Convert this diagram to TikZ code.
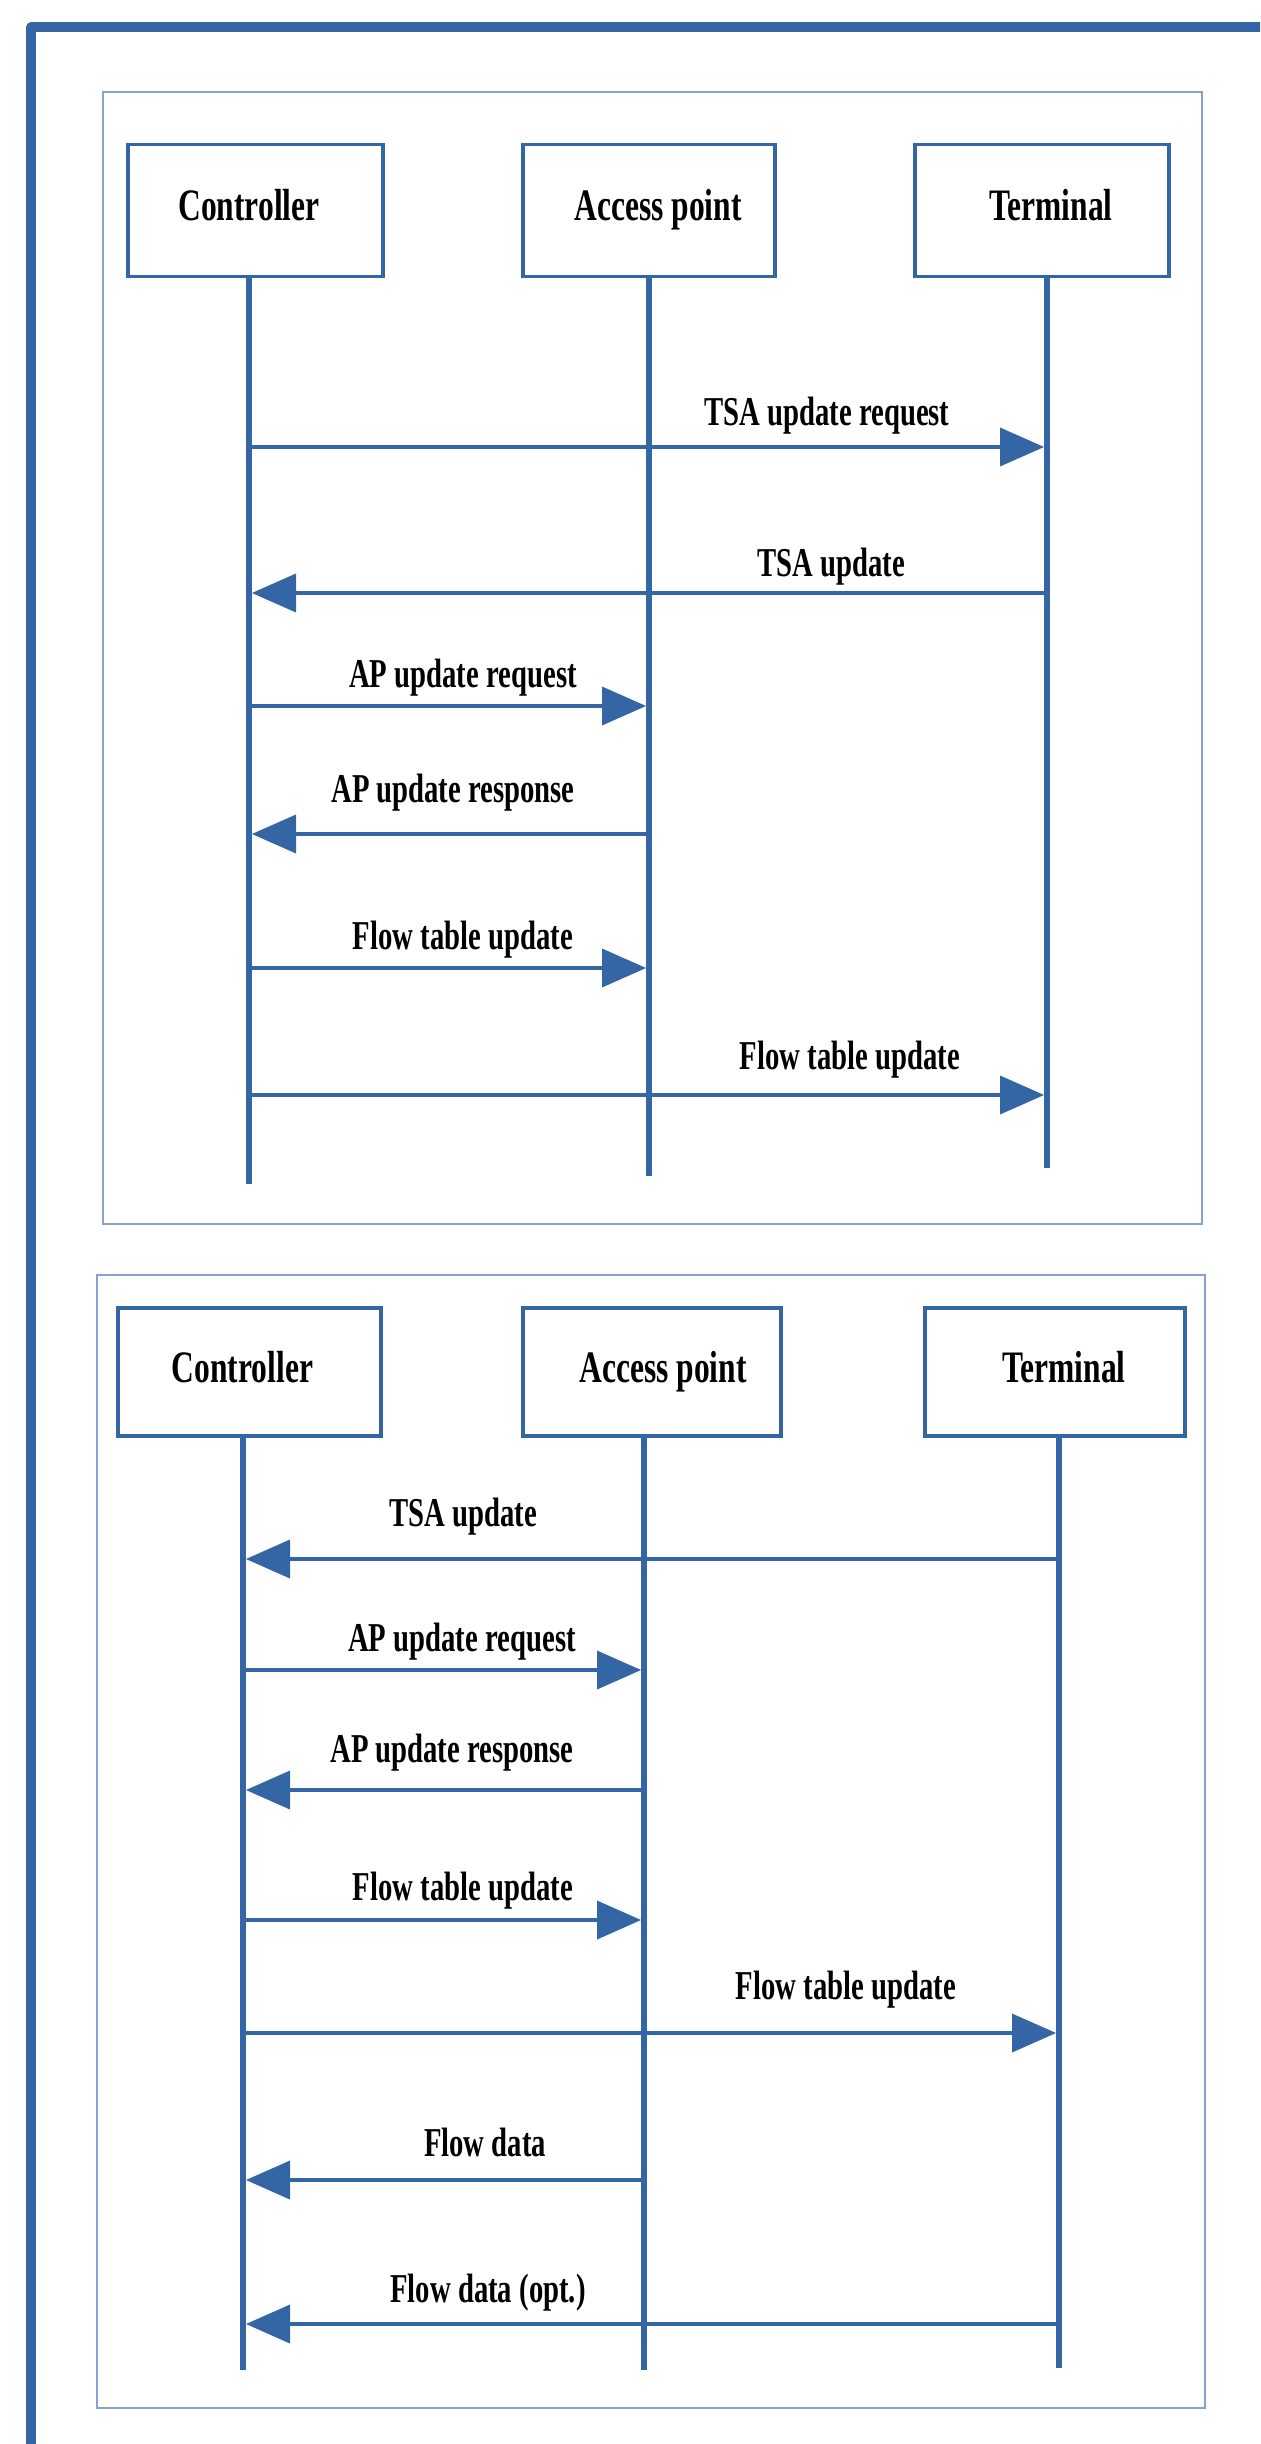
\documentclass[tikz,border=0pt]{standalone}
\usepackage{fontspec}
\newfontfamily\diafont[FakeStretch=0.70]{Liberation Serif}
\usetikzlibrary{arrows.meta}
\definecolor{lineblue}{HTML}{3465A4}
\definecolor{panelblue}{HTML}{86A3D0}
\begin{document}
\begin{tikzpicture}[x=0.5pt,y=-0.5pt,
  actor/.style={draw=lineblue, line width=1.75pt, rectangle, inner sep=0pt,
    minimum height=66pt, text height=15pt, text depth=5pt,
    font=\diafont\bfseries\fontsize{22.5pt}{24pt}\selectfont},
  life/.style={draw=lineblue, line width=2.75pt},
  msg/.style={draw=lineblue, line width=2pt, shorten >=1.5pt,
    -{Triangle[length=22pt,width=19.5pt,line width=0pt]}},
  lbl/.style={anchor=base, inner sep=0pt,
    font=\diafont\bfseries\fontsize{20.5pt}{22pt}\selectfont},
  panel/.style={draw=panelblue, line width=1pt},
  frame/.style={draw=lineblue, line width=5pt, line join=round}]
\useasboundingbox (0,0) rectangle (1260,2444);
\clip (0,0) rectangle (1260,2444);
% outer frame (cut at the right and bottom)
\draw[frame] (31,2500) -- (31,27.5) -- (1300,27.5);
% panels
\draw[panel] (103,92) rectangle (1202,1224);
\draw[panel] (97,1275) rectangle (1205,2408);

% ---------- panel 1 ----------
\node[actor, minimum width=127.5pt] (c1) at (255.5,210.5) {\hspace*{-6.5pt}Controller};
\node[actor, minimum width=126pt] (a1) at (649,210.5) {\hspace*{9pt}Access point};
\node[actor, minimum width=127pt] (t1) at (1042,210.5) {\hspace*{9pt}Terminal};
\coordinate (c1e) at (249,1184);
\coordinate (a1e) at (649,1176);
\coordinate (t1e) at (1047,1168);
\draw[life] (c1e |- c1.south) -- (c1e);
\draw[life] (a1e |- a1.south) -- (a1e);
\draw[life] (t1e |- t1.south) -- (t1e);

\draw[msg] (c1e |- 0,447) -- (t1e |- 0,447);
\node[lbl] (m11) at (827,426) {TSA update request};
\draw[msg] (t1e |- 0,593) -- (c1e |- 0,593);
\node[lbl] (m12) at (831,576) {TSA update};
\draw[msg] (c1e |- 0,706) -- (a1e |- 0,706);
\node[lbl] (m13) at (463,687) {AP update request};
\draw[msg] (a1e |- 0,834) -- (c1e |- 0,834);
\node[lbl] (m14) at (453,802) {AP update response};
\draw[msg] (c1e |- 0,968) -- (a1e |- 0,968);
\node[lbl] (m15) at (463,949) {Flow table update};
\draw[msg] (c1e |- 0,1095) -- (t1e |- 0,1095);
\node[lbl] (m16) at (850,1069) {Flow table update};

% ---------- panel 2 ----------
\node[actor, minimum width=131.5pt, minimum height=64pt] (c2) at (249.5,1372) {\hspace*{-7pt}Controller};
\node[actor, minimum width=129pt, minimum height=64pt] (a2) at (652,1372) {\hspace*{11pt}Access point};
\node[actor, minimum width=130pt, minimum height=64pt] (t2) at (1055,1372) {\hspace*{9pt}Terminal};
\coordinate (c2e) at (243,2370);
\coordinate (a2e) at (644,2370);
\coordinate (t2e) at (1059,2368);
\draw[life] (c2e |- c2.south) -- (c2e);
\draw[life] (a2e |- a2.south) -- (a2e);
\draw[life] (t2e |- t2.south) -- (t2e);

\draw[msg] (t2e |- 0,1559) -- (c2e |- 0,1559);
\node[lbl] (m21) at (463,1526) {TSA update};
\draw[msg] (c2e |- 0,1670) -- (a2e |- 0,1670);
\node[lbl] (m22) at (462,1651) {AP update request};
\draw[msg] (a2e |- 0,1790) -- (c2e |- 0,1790);
\node[lbl] (m23) at (452,1762) {AP update response};
\draw[msg] (c2e |- 0,1920) -- (a2e |- 0,1920);
\node[lbl] (m24) at (463,1900) {Flow table update};
\draw[msg] (c2e |- 0,2033) -- (t2e |- 0,2033);
\node[lbl] (m25) at (846,1999) {Flow table update};
\draw[msg] (a2e |- 0,2180) -- (c2e |- 0,2180);
\node[lbl] (m26) at (485,2156) {Flow data};
\draw[msg] (t2e |- 0,2324) -- (c2e |- 0,2324);
\node[lbl] (m27) at (488,2302) {Flow data (opt.)};
\end{tikzpicture}
\end{document}
